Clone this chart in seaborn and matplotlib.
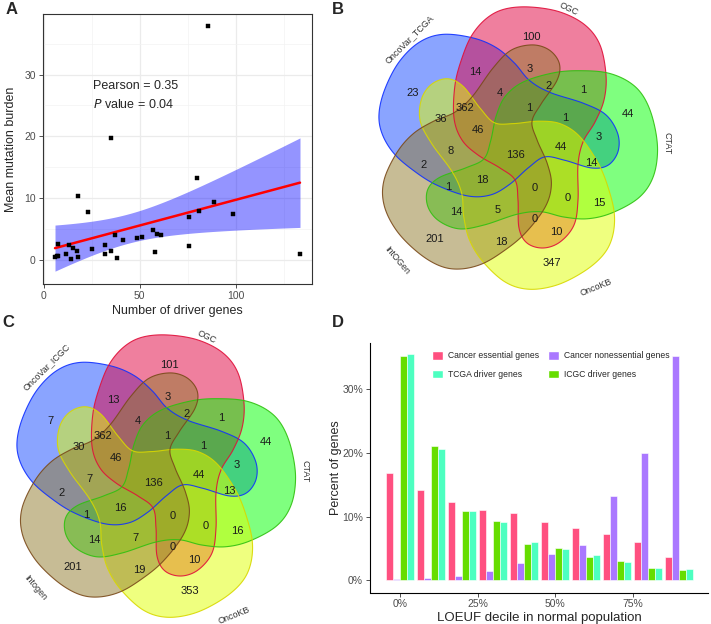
import numpy as np
import pandas as pd
import matplotlib
matplotlib.use("Agg")
import matplotlib.pyplot as plt
from matplotlib.patches import Polygon, Patch
from matplotlib.ticker import MultipleLocator, FuncFormatter
import seaborn as sns

sns.set_theme(style="white")
plt.rcParams["font.family"] = ["Liberation Sans", "DejaVu Sans"]

# ---------------- data ----------------
# Panel A: number of driver genes vs mean mutation burden
driver_genes = [5.9, 6.7, 7.2, 7.2, 11.4, 13.3, 14.1, 15.2, 17.1, 17.9, 18.1, 23.1,
                25.2, 31.9, 31.9, 35.0, 35.0, 36.9, 37.9, 41.0, 48.6, 50.9, 56.7,
                57.8, 58.8, 60.9, 75.7, 75.7, 79.7, 80.7, 85.5, 88.4, 98.4, 133.3]
mutation_burden = [0.5, 0.6, 2.6, 0.7, 0.9, 2.4, 0.2, 2.0, 1.5, 0.4, 10.4, 7.8,
                   1.7, 2.4, 0.9, 19.7, 1.5, 4.0, 0.3, 3.3, 3.6, 3.7, 4.9,
                   1.2, 4.2, 4.0, 7.0, 2.3, 13.3, 7.9, 37.8, 9.4, 7.5, 0.9]
pearson_text = "Pearson = 0.35"
pvalue_text = "0.04"

# Panels B and C: five-set Venn counts (same region order)
venn_b_sets = ["OncoVar_TCGA", "CGC", "CTAT", "OncoKB", "IntOGen"]
venn_c_sets = ["OncoVar_ICGC", "CGC", "CTAT", "OncoKB", "Intogen"]
venn_b_counts = [100, 14, 3, 23, 2, 1, 4, 1, 362, 1, 36, 46, 44, 3, 8, 136, 44, 14,
                 2, 1, 18, 0, 0, 15, 14, 5, 0, 10, 201, 18, 347]
venn_c_counts = [101, 13, 3, 7, 2, 1, 4, 1, 362, 1, 30, 46, 44, 3, 7, 136, 44, 13,
                 2, 1, 16, 0, 0, 16, 14, 7, 0, 10, 201, 19, 353]

# Panel D: percent of genes per LOEUF decile
deciles = [0, 10, 20, 30, 40, 50, 60, 70, 80, 90]
essential = [16.9, 14.1, 12.3, 11.1, 10.6, 9.2, 8.2, 7.2, 6.0, 3.6]
nonessential = [0.15, 0.4, 0.7, 1.4, 2.7, 4.1, 5.6, 13.2, 19.9, 35.2]
icgc = [35.1, 21.0, 10.9, 9.3, 5.7, 5.0, 3.7, 3.0, 2.0, 1.6]
tcga = [35.4, 20.6, 10.8, 9.1, 6.0, 4.9, 3.9, 2.9, 1.9, 1.8]
group_names = ["Cancer essential genes", "Cancer nonessential genes",
               "ICGC driver genes", "TCGA driver genes"]

# ---------------- layout helpers ----------------
W, H = 711, 624
fig = plt.figure(figsize=(W / 100, H / 100), dpi=100)


def rect(x0, y0, x1, y1):
    return [x0 / W, 1 - y1 / H, (x1 - x0) / W, (y1 - y0) / H]


# ---------------- Panel A ----------------
axA = fig.add_axes(rect(42.7, 14, 312.3, 284))
dfA = pd.DataFrame({"genes": driver_genes, "burden": mutation_burden})
x = np.asarray(driver_genes)
y = np.asarray(mutation_burden)
n = len(x)
b1, b0 = np.polyfit(x, y, 1)
xs = np.linspace(x.min(), x.max(), 200)
ys = b0 + b1 * xs
resid = y - (b0 + b1 * x)
s = np.sqrt(np.sum(resid ** 2) / (n - 2))
se = s * np.sqrt(1 / n + (xs - x.mean()) ** 2 / np.sum((x - x.mean()) ** 2))
tq = 2.037
axA.fill_between(xs, ys - tq * se, ys + tq * se, color="#0000FF", alpha=0.42,
                 linewidth=0, zorder=2)
sns.lineplot(x=xs, y=ys, ax=axA, color="#FF0000", linewidth=1.8, zorder=3)
sns.scatterplot(data=dfA, x="genes", y="burden", ax=axA, marker="s", s=6,
                color="black", edgecolor="black", linewidth=0.3, zorder=4)
axA.set_xlim(-0.5, 139.7)
axA.set_ylim(-3.9, 39.8)
axA.xaxis.set_major_locator(MultipleLocator(50))
axA.xaxis.set_minor_locator(MultipleLocator(25))
axA.yaxis.set_major_locator(MultipleLocator(10))
axA.yaxis.set_minor_locator(MultipleLocator(5))
axA.grid(True, which="major", color="#EBEBEB", linewidth=0.9, zorder=0)
axA.grid(True, which="minor", color="#F3F3F3", linewidth=0.5, zorder=0)
axA.set_axisbelow(True)
for sp in axA.spines.values():
    sp.set_color("#333333")
    sp.set_linewidth(0.8)
axA.tick_params(axis="both", which="major", length=3, width=0.6, color="#333333",
                labelsize=7.5, labelcolor="#4D4D4D", pad=2, bottom=True, left=True)
axA.tick_params(which="minor", length=0)
axA.set_xlabel("Number of driver genes", fontsize=9, labelpad=3)
axA.set_ylabel("Mean mutation burden", fontsize=9, labelpad=5)
axA.text(25.5, 28.2, pearson_text, fontsize=9, va="center", ha="left")
axA.text(25.5, 25.1, r"$\it{P}$ value = " + pvalue_text, fontsize=9, va="center", ha="left")

# ---------------- Venn geometry ----------------
# one petal outline (relative to the diagram centre, image coords, y down)
PETAL = [(16, -141), (46, -136), (71, -123), (86, -103), (92, -73), (90, -48),
         (81, -26), (69, -6), (64, 17), (64, 52), (60, 77), (46, 94), (29, 100),
         (13, 95), (5, 80), (4, 52), (1, 32), (-14, 20), (-36, 7), (-52, -8),
         (-60, -30), (-59, -63), (-52, -90), (-42, -113), (-27, -130), (-9, -139)]

# rotation (clockwise, degrees) of each set's petal, fill and edge colours
SET_ROT = [-72, 0, 72, 144, 216]
SET_FILL = ["#174BFF", "#E1003F", "#00FF00", "#E1FF00", "#917A2D"]
SET_EDGE = ["#1030FF", "#E0103A", "#30C010", "#D8D800", "#7A4A1A"]

# count label positions (relative to centre), same order as count arrays
LABEL_POS = [(17.7, -111.3), (-38.3, -76.3), (16, -79), (-101.7, -55.3), (34.3, -62),
             (69.3, -58), (-14, -54.7), (15.3, -39.7), (-49, -40.3), (51.7, -29.7),
             (-73, -28.7), (-36.3, -18), (114.3, -33.7), (84.3, -11.3), (-63, 3),
             (1, 7), (47, -1.3), (77, 14.7), (-90.7, 17), (-65.7, 38.7), (-31.3, 32),
             (21, 40.3), (53.3, 49.7), (85.3, 55.3), (-57.3, 64), (-16.7, 62),
             (20.3, 71), (42.7, 83.7), (-79.7, 91), (-13, 94.3), (37.7, 115.3)]
# set name positions and rotations
SETNAME_POS = [(-105, -109), (55, -139), (153, -5), (82, 139), (-117, 112)]
SETNAME_ROT = [45, -25, -90, 22, -50]


def smooth_closed(pts, m=24):
    P = np.asarray(pts, float)
    N = len(P)
    t = np.linspace(0, 1, m, endpoint=False)[:, None]
    out = []
    for i in range(N):
        p0, p1, p2, p3 = P[(i - 1) % N], P[i], P[(i + 1) % N], P[(i + 2) % N]
        seg = 0.5 * (2 * p1 + (-p0 + p2) * t + (2 * p0 - 5 * p1 + 4 * p2 - p3) * t ** 2
                     + (-p0 + 3 * p1 - 3 * p2 + p3) * t ** 3)
        out.append(seg)
    return np.vstack(out)


def rotate(pts, deg):
    a = np.deg2rad(deg)
    R = np.array([[np.cos(a), -np.sin(a)], [np.sin(a), np.cos(a)]])
    return pts @ R.T


def draw_venn(ax, counts, names):
    base = smooth_closed(PETAL)
    for rot, fc, ec in zip(SET_ROT, SET_FILL, SET_EDGE):
        pts = rotate(base, rot)
        ax.add_patch(Polygon(pts, closed=True, facecolor=fc, alpha=0.5,
                             edgecolor="none", zorder=2))
        ax.add_patch(Polygon(pts, closed=True, facecolor="none", edgecolor=ec,
                             linewidth=0.8, alpha=0.9, zorder=3))
    for (px, py), c in zip(LABEL_POS, counts):
        ax.text(px, py, str(c), ha="center", va="center", fontsize=8,
                color="#1A1A1A", zorder=5)
    for (px, py), r, nm in zip(SETNAME_POS, SETNAME_ROT, names):
        ax.text(px, py, nm, ha="center", va="center", rotation=r, fontsize=6.5,
                color="#333333", zorder=5, rotation_mode="anchor")
    ax.set_aspect("equal")
    ax.axis("off")


# Panel B (centre at 514,148)
cxB, cyB = 514, 148
axB = fig.add_axes(rect(340, 0, 711, 300))
axB.set_xlim(340 - cxB, 711 - cxB)
axB.set_ylim(300 - cyB, 0 - cyB)
draw_venn(axB, venn_b_counts, venn_b_sets)

# Panel C (centre at 152,476)
cxC, cyC = 152, 476
axC = fig.add_axes(rect(0, 312, 340, 624))
axC.set_xlim(0 - cxC, 340 - cxC)
axC.set_ylim(624 - cyC, 312 - cyC)
draw_venn(axC, venn_c_counts, venn_c_sets)

# ---------------- Panel D ----------------
axD = fig.add_axes(rect(370, 343, 708, 592.5))
dfD = pd.DataFrame({
    "decile": deciles * 4,
    "pct": essential + nonessential + icgc + tcga,
    "group": sum([[g] * len(deciles) for g in group_names], []),
})
palD = {"Cancer essential genes": "#FF5080", "Cancer nonessential genes": "#AA78FF",
        "ICGC driver genes": "#66DD00", "TCGA driver genes": "#4DFFC0"}
sns.barplot(data=dfD, x="decile", y="pct", hue="group", hue_order=group_names,
            palette=palD, native_scale=True, width=0.9, errorbar=None, ax=axD,
            edgecolor="white", linewidth=0.4, saturation=1)
axD.set_xlim(-9.68, 99.35)
axD.set_ylim(-1.9, 37.2)
axD.set_xticks([0, 25, 50, 75])
axD.xaxis.set_major_formatter(FuncFormatter(lambda v, p: f"{v:.0f}%"))
axD.set_yticks([0, 10, 20, 30])
axD.yaxis.set_major_formatter(FuncFormatter(lambda v, p: f"{v:.0f}%"))
for side in ["top", "right"]:
    axD.spines[side].set_visible(False)
for side in ["left", "bottom"]:
    axD.spines[side].set_color("black")
    axD.spines[side].set_linewidth(0.8)
axD.tick_params(axis="both", length=3, width=0.6, color="#333333", labelsize=7.5,
                labelcolor="#4D4D4D", pad=2, bottom=True, left=True)
axD.set_xlabel("LOEUF decile in normal population", fontsize=9.5, labelpad=2)
axD.set_ylabel("Percent of genes", fontsize=9, labelpad=0)
if axD.get_legend() is not None:
    axD.get_legend().remove()
order = ["Cancer essential genes", "TCGA driver genes",
         "Cancer nonessential genes", "ICGC driver genes"]
handles = [Patch(facecolor=palD[g], edgecolor="white", label=g) for g in order]
axD.legend(handles=handles, ncol=2, loc="upper left", bbox_to_anchor=(0.16, 1.0),
           frameon=False, fontsize=6.2, handlelength=1.3, handleheight=1.2,
           columnspacing=1.0, labelspacing=1.1, handletextpad=0.6)

# ---------------- panel letters ----------------
for lab, (px, py) in zip("ABCD", [(12, 10), (338, 10), (8, 322), (338, 322)]):
    fig.text(px / W, 1 - py / H, lab, fontsize=12, fontweight="bold",
             ha="center", va="center")

fig.savefig("out.png", dpi=100)
